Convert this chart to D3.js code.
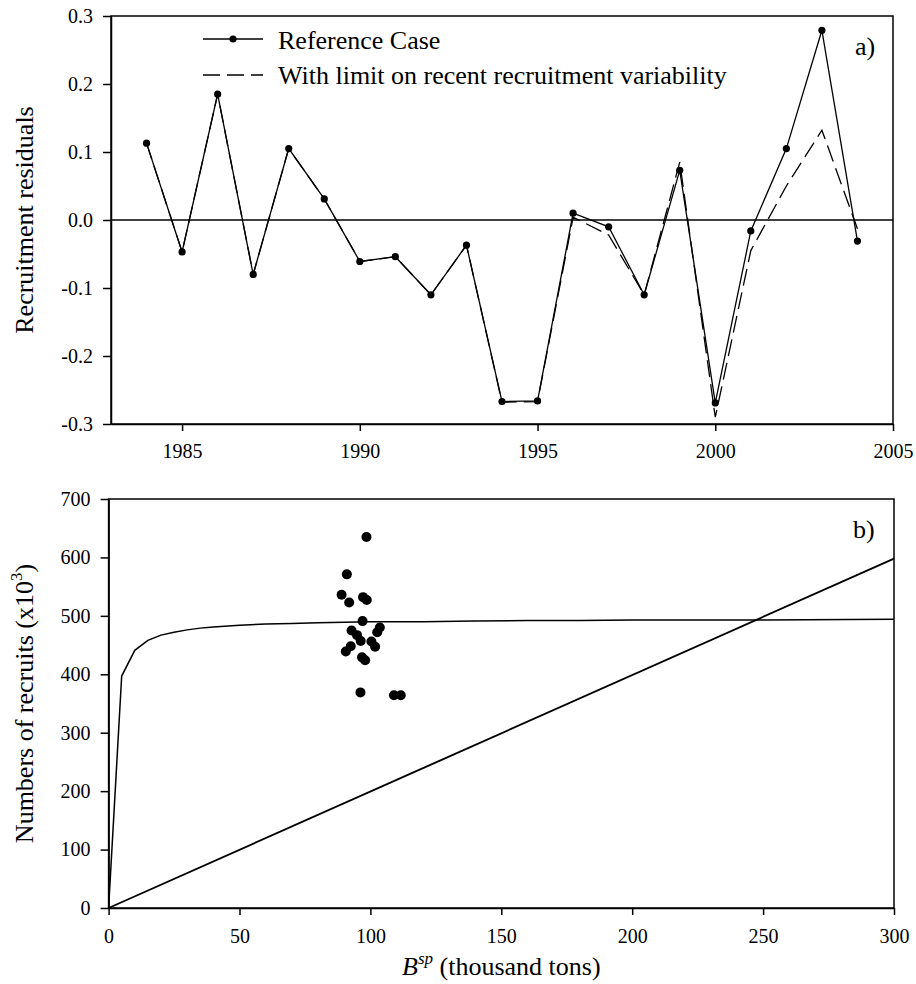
<!DOCTYPE html>
<html>
<head>
<meta charset="utf-8">
<script src="https://cdnjs.cloudflare.com/ajax/libs/d3/7.8.5/d3.min.js"></script>
<style>
    body { margin: 0; background: #fff; }
    svg { font-family: "Liberation Serif", "Times New Roman", serif; }
    .axis path, .axis line { stroke: #000; stroke-width: 1.5px; }
    .axis text { font-family: "Liberation Serif", "Times New Roman", serif; font-size: 20px; fill: #000; }
</style>
</head>
<body>
<div id="chart"></div>
<script>
// panel a) recruitment residuals by year
var years = [1984, 1985, 1986, 1987, 1988, 1989, 1990, 1991, 1992, 1993, 1994,
    1995, 1996, 1997, 1998, 1999, 2000, 2001, 2002, 2003, 2004];
var referenceCase = [0.113, -0.047, 0.185, -0.080, 0.105, 0.031, -0.061, -0.054, -0.110, -0.037, -0.267,
    -0.266, 0.010, -0.010, -0.110, 0.073, -0.269, -0.016, 0.105, 0.279, -0.031];
var limitCase = [0.113, -0.047, 0.185, -0.080, 0.105, 0.031, -0.061, -0.054, -0.110, -0.037, -0.268,
    -0.267, 0.004, -0.022, -0.110, 0.085, -0.290, -0.045, 0.050, 0.132, -0.013];
var yearTicks = [1985, 1990, 1995, 2000, 2005];
var residTicks = [-0.3, -0.2, -0.1, 0, 0.1, 0.2, 0.3];
var residTickLabels = ["-0.3", "-0.2", "-0.1", "0.0", "0.1", "0.2", "0.3"];

// panel b) stock-recruitment
var spawnBiomass = [89, 91, 91.9, 97.2, 98.6, 98.5, 97, 92.8, 103.6, 102.6, 94.9,
    96.3, 92.5, 90.6, 100.4, 101.8, 96.8, 98, 96.2, 109, 111.6];
var recruits = [536, 571, 523, 532, 527, 635, 491, 475, 480, 472, 467,
    457, 448, 439, 456, 447, 429, 424, 369, 364, 364];
var curveB = [0, 5, 10, 15, 20, 25, 30, 35, 40, 50, 60, 70, 80, 90, 100, 120, 140, 160, 180, 200, 250, 300];
var curveR = [0, 397, 441, 458, 467, 472, 476, 479, 481, 484, 486, 487, 488, 489, 490, 490, 491, 492, 492, 493, 493, 494];
var replacementB = [0, 300];
var replacementR = [0, 598];
var bTicks = [0, 50, 100, 150, 200, 250, 300];
var rTicks = [0, 100, 200, 300, 400, 500, 600, 700];

var width = 916, height = 984;

var svg = d3.select("#chart").append("svg")
    .attr("width", width)
    .attr("height", height);

// ---------- panel a ----------
var pa = {left: 111, right: 893, top: 16, bottom: 424};

var xA = d3.scaleLinear().domain([1983, 2005]).range([pa.left, pa.right]);
var yA = d3.scaleLinear().domain([-0.3, 0.3]).range([pa.bottom, pa.top]);

svg.append("g")
    .attr("class", "axis")
    .attr("transform", "translate(0," + pa.bottom + ")")
    .call(d3.axisBottom(xA).tickValues(yearTicks).tickFormat(d3.format("d"))
        .tickSize(7).tickPadding(13).tickSizeOuter(0));

svg.append("g")
    .attr("class", "axis")
    .attr("transform", "translate(" + pa.left + ",0)")
    .call(d3.axisLeft(yA).tickValues(residTicks)
        .tickFormat(function(d, i) { return residTickLabels[i]; })
        .tickSize(8).tickPadding(10).tickSizeOuter(0));

svg.append("rect")
    .attr("x", pa.left).attr("y", pa.top)
    .attr("width", pa.right - pa.left).attr("height", pa.bottom - pa.top)
    .attr("fill", "none").attr("stroke", "#000").attr("stroke-width", 1.5);

svg.append("line")
    .attr("x1", xA(1983)).attr("x2", xA(2005))
    .attr("y1", yA(0)).attr("y2", yA(0))
    .attr("stroke", "#000").attr("stroke-width", 1.4);

var lineA = d3.line()
    .x(function(d) { return xA(d[0]); })
    .y(function(d) { return yA(d[1]); });

var refPts = years.map(function(y, i) { return [y, referenceCase[i]]; });
var limPts = years.map(function(y, i) { return [y, limitCase[i]]; });

svg.append("path")
    .datum(limPts)
    .attr("d", lineA)
    .attr("fill", "none")
    .attr("stroke", "#000")
    .attr("stroke-width", 1.3)
    .attr("stroke-dasharray", "17,7");

svg.append("path")
    .datum(refPts)
    .attr("d", lineA)
    .attr("fill", "none")
    .attr("stroke", "#000")
    .attr("stroke-width", 1.3);

svg.selectAll(".refDot")
    .data(refPts)
    .enter().append("circle")
    .attr("class", "refDot")
    .attr("cx", function(d) { return xA(d[0]); })
    .attr("cy", function(d) { return yA(d[1]); })
    .attr("r", 3.6)
    .attr("fill", "#000");

// legend
var legend = svg.append("g");
legend.append("line")
    .attr("x1", 203).attr("x2", 263).attr("y1", 39).attr("y2", 39)
    .attr("stroke", "#000").attr("stroke-width", 1.3);
legend.append("circle")
    .attr("cx", 233).attr("cy", 39).attr("r", 3.6).attr("fill", "#000");
legend.append("text")
    .attr("x", 278).attr("y", 49)
    .attr("font-size", 26)
    .text("Reference Case");
legend.append("line")
    .attr("x1", 203).attr("x2", 263).attr("y1", 75).attr("y2", 75)
    .attr("stroke", "#000").attr("stroke-width", 1.3)
    .attr("stroke-dasharray", "17,7");
legend.append("text")
    .attr("x", 278).attr("y", 84)
    .attr("font-size", 26)
    .text("With limit on recent recruitment variability");

svg.append("text")
    .attr("x", 855).attr("y", 55)
    .attr("font-size", 26)
    .text("a)");

svg.append("text")
    .attr("transform", "translate(33," + (pa.top + pa.bottom) / 2 + ") rotate(-90)")
    .attr("text-anchor", "middle")
    .attr("font-size", 26)
    .text("Recruitment residuals");

// ---------- panel b ----------
var pb = {left: 108.6, right: 894, top: 499, bottom: 908};

var xB = d3.scaleLinear().domain([0, 300]).range([pb.left, pb.right]);
var yB = d3.scaleLinear().domain([0, 700]).range([pb.bottom, pb.top]);

svg.append("g")
    .attr("class", "axis")
    .attr("transform", "translate(0," + pb.bottom + ")")
    .call(d3.axisBottom(xB).tickValues(bTicks).tickFormat(d3.format("d"))
        .tickSize(7).tickPadding(14).tickSizeOuter(0));

svg.append("g")
    .attr("class", "axis")
    .attr("transform", "translate(" + pb.left + ",0)")
    .call(d3.axisLeft(yB).tickValues(rTicks).tickFormat(d3.format("d"))
        .tickSize(8).tickPadding(10).tickSizeOuter(0));

svg.append("rect")
    .attr("x", pb.left).attr("y", pb.top)
    .attr("width", pb.right - pb.left).attr("height", pb.bottom - pb.top)
    .attr("fill", "none").attr("stroke", "#000").attr("stroke-width", 1.5);

var lineB = d3.line()
    .x(function(d) { return xB(d[0]); })
    .y(function(d) { return yB(d[1]); });

svg.append("path")
    .datum(curveB.map(function(b, i) { return [b, curveR[i]]; }))
    .attr("d", lineB)
    .attr("fill", "none")
    .attr("stroke", "#000")
    .attr("stroke-width", 1.5);

svg.append("path")
    .datum(replacementB.map(function(b, i) { return [b, replacementR[i]]; }))
    .attr("d", lineB)
    .attr("fill", "none")
    .attr("stroke", "#000")
    .attr("stroke-width", 1.9);

svg.selectAll(".srDot")
    .data(spawnBiomass.map(function(b, i) { return [b, recruits[i]]; }))
    .enter().append("circle")
    .attr("class", "srDot")
    .attr("cx", function(d) { return xB(d[0]); })
    .attr("cy", function(d) { return yB(d[1]); })
    .attr("r", 5)
    .attr("fill", "#000");

svg.append("text")
    .attr("x", 853).attr("y", 538)
    .attr("font-size", 26)
    .text("b)");

var yTitleB = svg.append("text")
    .attr("transform", "translate(33," + (pb.top + pb.bottom) / 2 + ") rotate(-90)")
    .attr("text-anchor", "middle")
    .attr("font-size", 26);
yTitleB.append("tspan").text("Numbers of recruits (x10");
yTitleB.append("tspan").attr("font-size", 17).attr("dy", -11).text("3");
yTitleB.append("tspan").attr("dy", 11).text(")");

var xTitleB = svg.append("text")
    .attr("x", (pb.left + pb.right) / 2).attr("y", 975)
    .attr("text-anchor", "middle")
    .attr("font-size", 26);
xTitleB.append("tspan").attr("font-style", "italic").text("B");
xTitleB.append("tspan").attr("font-style", "italic").attr("font-size", 17).attr("dy", -11).text("sp");
xTitleB.append("tspan").attr("dy", 11).text(" (thousand tons)");
</script>
</body>
</html>
